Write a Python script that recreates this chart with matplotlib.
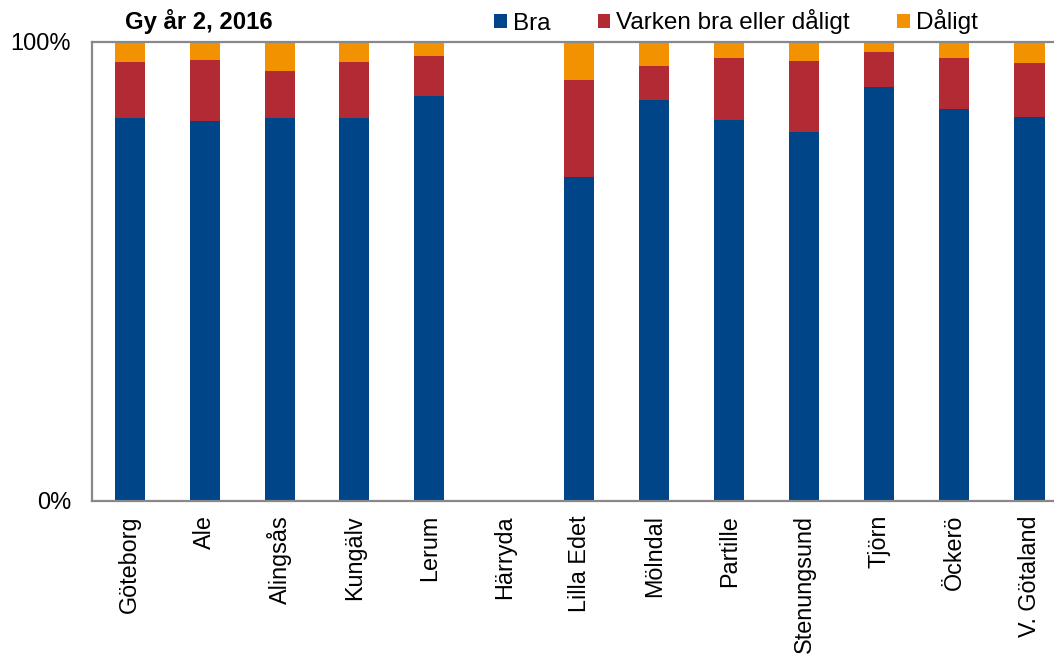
import numpy as np
import matplotlib
matplotlib.use("Agg")
import matplotlib.pyplot as plt
from matplotlib.patches import Patch
from matplotlib.ticker import FixedLocator, FuncFormatter

# Survey answers, Gy år 2, 2016 (share of respondents, %)
kommuner = ["Göteborg", "Ale", "Alingsås", "Kungälv", "Lerum", "Härryda",
            "Lilla Edet", "Mölndal", "Partille", "Stenungsund", "Tjörn",
            "Öckerö", "V. Götaland"]
bra = [83.5, 82.8, 83.5, 83.5, 88.2, np.nan, 70.5, 87.3, 82.9, 80.3, 90.1, 85.3, 83.7]
varken = [12.2, 13.3, 10.2, 12.2, 8.7, np.nan, 21.3, 7.5, 13.7, 15.5, 7.7, 11.3, 11.8]
daligt = [4.3, 3.9, 6.3, 4.3, 3.1, np.nan, 8.2, 5.2, 3.4, 4.2, 2.2, 3.4, 4.5]
serie_namn = ["Bra", "Varken bra eller dåligt", "Dåligt"]
farger = ["#004587", "#B22A33", "#F39200"]
y_ticks = [0, 100]

plt.rcParams["font.family"] = ["Liberation Sans", "DejaVu Sans"]

W, H = 1054, 655
fig = plt.figure(figsize=(W / 100, H / 100), dpi=100)
ax = fig.add_axes([92 / W, 1 - 500.5 / H, 975 / W, 458.5 / H])

x = np.arange(len(kommuner))
bottom = np.zeros(len(kommuner))
for vals, col in zip([bra, varken, daligt], farger):
    v = np.nan_to_num(np.array(vals, dtype=float))
    ax.bar(x, v, width=0.4, bottom=bottom, color=col, linewidth=0)
    bottom += v

ax.set_xlim(-0.5, len(kommuner) - 0.5)
ax.set_ylim(0, 100)
ax.yaxis.set_major_locator(FixedLocator(y_ticks))
ax.yaxis.set_major_formatter(FuncFormatter(lambda v, p: f"{v:.0f}%"))
ax.set_xticks(x)
ax.set_xticklabels(kommuner, rotation=90, va="top", ha="center")
ax.tick_params(axis="x", length=0, pad=10.5, labelsize=16.8)
ax.tick_params(axis="y", length=0, pad=15, labelsize=17)

for s in ax.spines.values():
    s.set_color("#888888")
    s.set_linewidth(1.6)

fig.text(125 / W, 1 - 22 / H, "Gy år 2, 2016", fontsize=17.2,
         fontweight="bold", ha="left", va="center")

handles = [Patch(facecolor=c, edgecolor="none") for c in farger]
fig.legend(handles, serie_namn, loc="center left",
           bbox_to_anchor=(494 / W, 1 - 22 / H), ncol=3, frameon=False,
           fontsize=17.5, handlelength=0.52, handleheight=0.52,
           handletextpad=0.25, columnspacing=1.95, borderpad=0,
           borderaxespad=0)

fig.savefig("out.png", dpi=100)
